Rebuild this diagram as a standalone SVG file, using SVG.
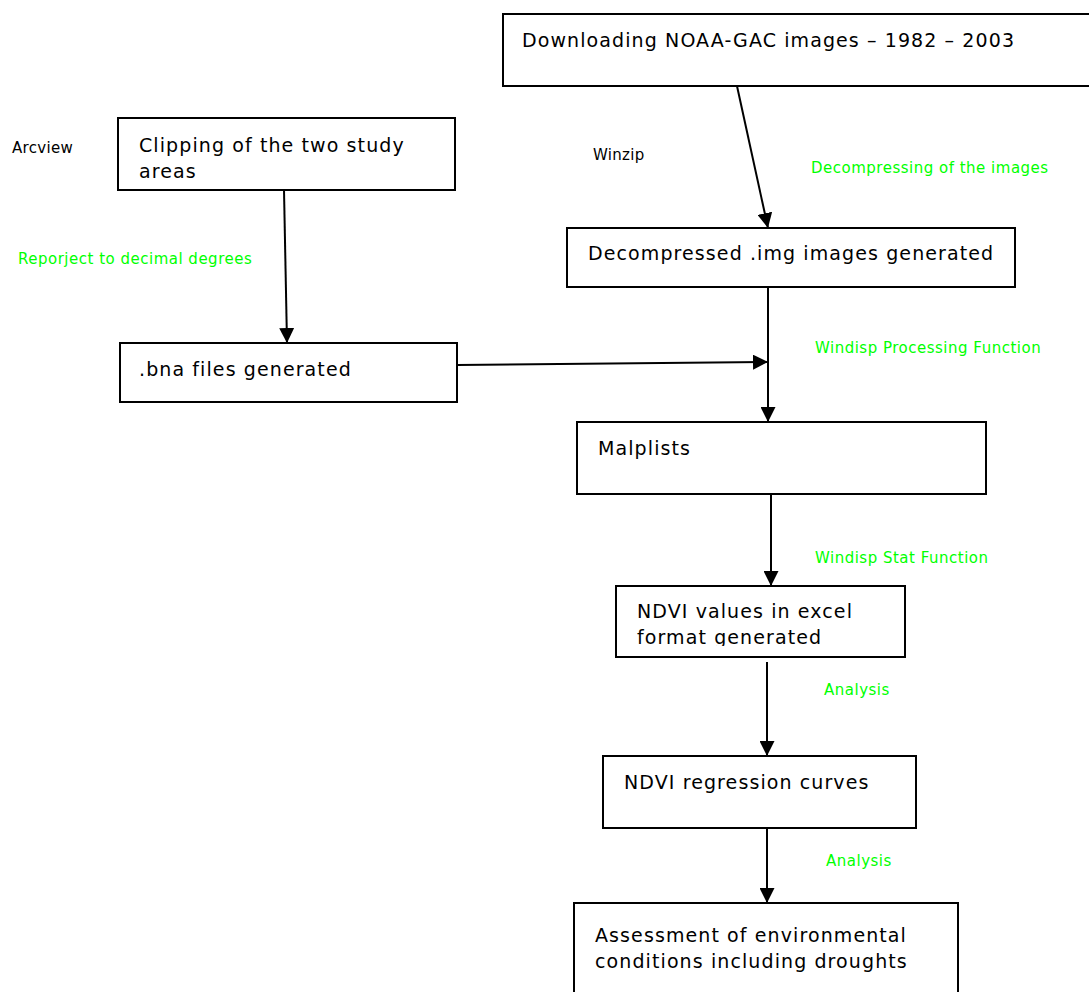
<svg xmlns="http://www.w3.org/2000/svg" width="1089" height="992" viewBox="0 0 1089 992">
<style>
.box{fill:#fff;stroke:#000;stroke-width:2}
.t{font-family:"DejaVu Sans",Verdana,sans-serif;font-size:19px;letter-spacing:1.1px;fill:#000}
.g{font-family:"DejaVu Sans",Verdana,sans-serif;font-size:15px;letter-spacing:0.5px;fill:#00ff00}
.s{font-family:"DejaVu Sans",Verdana,sans-serif;font-size:15px;letter-spacing:0.3px;fill:#000}
.c{stroke:#000;stroke-width:2;fill:none;marker-end:url(#ah)}
</style>
<defs>
<marker id="ah" viewBox="0 0 10 10" refX="10" refY="5" markerWidth="15" markerHeight="15" markerUnits="userSpaceOnUse" orient="auto">
<path d="M0,0 L10,5 L0,10 z" fill="#000"/>
</marker>
<clipPath id="clipNdvi"><rect x="616" y="586" width="289" height="60"/></clipPath>
</defs>
<rect x="0" y="0" width="1089" height="992" fill="#fff"/>
<g id="connectors">
<path class="c" d="M737,86 L768,228"/>
<path class="c" d="M284,190 L287,343"/>
<path class="c" d="M768,287 L768,422"/>
<path class="c" d="M457,365 L768,362"/>
<path class="c" d="M771,494 L771,586"/>
<path class="c" d="M767,662 L767,756"/>
<path class="c" d="M767,828 L767,903"/>
</g>
<g id="labels">
<text class="s" x="12" y="153">Arcview</text>
<text class="s" x="593" y="160">Winzip</text>
<text class="g" x="811" y="173">Decompressing of the images</text>
<text class="g" x="18" y="264">Reporject to decimal degrees</text>
<text class="g" x="815" y="353">Windisp Processing Function</text>
<text class="g" x="815" y="563">Windisp Stat Function</text>
<text class="g" x="824" y="695">Analysis</text>
<text class="g" x="826" y="866">Analysis</text>
</g>
<g id="n-download">
<rect class="box" x="503" y="14" width="600" height="72"/>
<text class="t" x="522" y="47">Downloading NOAA-GAC images – 1982 – 2003</text>
</g>
<g id="n-decompressed">
<rect class="box" x="567" y="228" width="448" height="59"/>
<text class="t" x="588" y="260">Decompressed .img images generated</text>
</g>
<g id="n-clipping">
<rect class="box" x="118" y="118" width="337" height="72"/>
<text class="t" x="139" y="152">Clipping of the two study</text>
<text class="t" x="139" y="178">areas</text>
</g>
<g id="n-bna">
<rect class="box" x="120" y="343" width="337" height="59"/>
<text class="t" x="139" y="376">.bna files generated</text>
</g>
<g id="n-malplists">
<rect class="box" x="577" y="422" width="409" height="72"/>
<text class="t" x="598" y="455">Malplists</text>
</g>
<g id="n-ndvi-values">
<rect class="box" x="616" y="586" width="289" height="71"/>
<g clip-path="url(#clipNdvi)">
<text class="t" x="637" y="618">NDVI values in excel</text>
<text class="t" x="637" y="644">format generated</text>
</g>
</g>
<g id="n-regression">
<rect class="box" x="603" y="756" width="313" height="72"/>
<text class="t" x="624" y="789">NDVI regression curves</text>
</g>
<g id="n-assessment">
<rect class="box" x="574" y="903" width="384" height="100"/>
<text class="t" x="595" y="942">Assessment of environmental</text>
<text class="t" x="595" y="968">conditions including droughts</text>
</g>
</svg>
